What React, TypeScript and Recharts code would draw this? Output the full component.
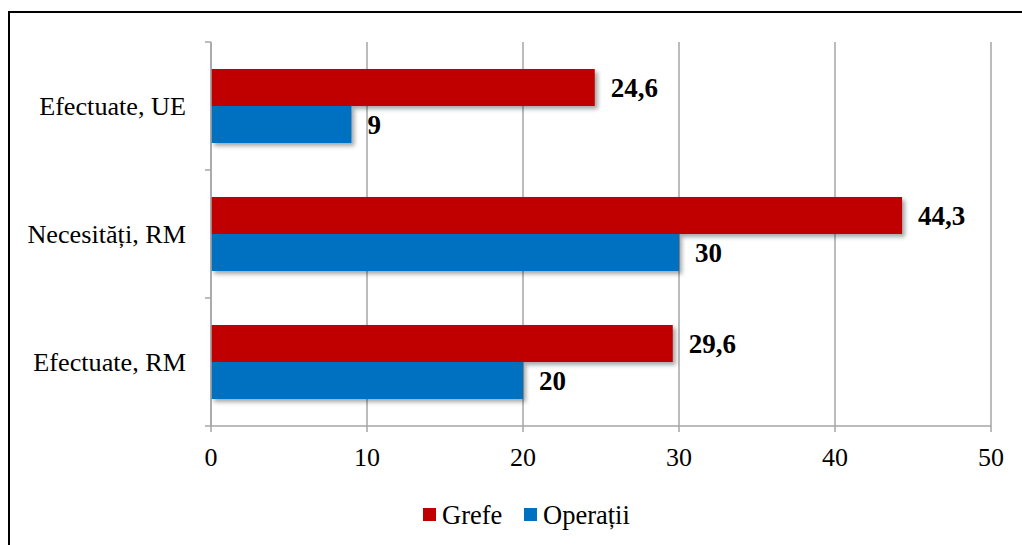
import React from 'react';
import {
  BarChart,
  Bar,
  XAxis,
  YAxis,
  CartesianGrid,
  Legend,
  LabelList,
} from 'recharts';

// categories, top to bottom
const categories = ['Efectuate, UE', 'Necesități, RM', 'Efectuate, RM'];
const grefe = [24.6, 44.3, 29.6];
const operatii = [9, 30, 20];
const xTicks = [0, 10, 20, 30, 40, 50];

const RED = '#C00000';
const BLUE = '#0070C0';
const GRID = '#A6A6A6';
const FONT = 'Liberation Serif, Times New Roman, serif';

const W = 1022;
const H = 545;
const MARGIN = { top: 42, right: 31, left: 0, bottom: 89 };
const X_AXIS_H = 30;
const PLOT_H = H - MARGIN.top - MARGIN.bottom - X_AXIS_H;

const data = categories.map((name, i) => ({
  name,
  Grefe: grefe[i],
  Operatii: operatii[i],
}));

const fmt = (v: any) => String(v).replace('.', ',');

// Excel style: tick marks sit on the band boundaries, not on the label
const CategoryTick = (props: any) => {
  const { x, y, payload, index } = props;
  const half = PLOT_H / categories.length / 2;
  const lineX = x + 19;
  return (
    <g>
      <line x1={lineX} x2={lineX + 6} y1={y - half} y2={y - half} stroke={GRID} strokeWidth={1.5} />
      {index === categories.length - 1 && (
        <line x1={lineX} x2={lineX + 6} y1={y + half} y2={y + half} stroke={GRID} strokeWidth={1.5} />
      )}
      <text
        x={x}
        y={y}
        textAnchor="end"
        dominantBaseline="central"
        fontFamily={FONT}
        fontSize={26.2}
        fill="#000"
      >
        {payload.value}
      </text>
    </g>
  );
};

const ShadowBar = (props: any) => {
  const { x, y, width, height, fill } = props;
  return (
    <rect
      x={x}
      y={y}
      width={width}
      height={height}
      fill={fill}
      style={{ filter: 'drop-shadow(3px 3px 2px rgba(0,0,0,0.35))' }}
    />
  );
};

const legendItems = [
  { label: 'Grefe', color: RED, x: 415 },
  { label: 'Operații', color: BLUE, x: 516 },
];

// drawn as svg so it uses the same serif text as the axes
const renderLegend = () => (
  <svg width={1036} height={40} style={{ display: 'block' }}>
    {legendItems.map((it) => (
      <g key={it.label}>
        <rect x={it.x} y={12} width={13} height={13} fill={it.color} />
        <text
          x={it.x + 19}
          y={19}
          dominantBaseline="central"
          fontFamily={FONT}
          fontSize={26.5}
          fill="#000"
        >
          {it.label}
        </text>
      </g>
    ))}
  </svg>
);

export default function App() {
  return (
    <div style={{ position: 'absolute', left: 0, top: 0, width: W, height: H, overflow: 'hidden', background: '#fff' }}>
      <div
        style={{
          position: 'absolute',
          left: 8,
          top: 11,
          width: 1040,
          height: 560,
          border: '2px solid #000',
          boxSizing: 'border-box',
        }}
      />
      <div style={{ position: 'absolute', left: 0, top: 0 }}>
        <BarChart
          width={W}
          height={H}
          data={data}
          layout="vertical"
          margin={MARGIN}
          barSize={37}
          barGap={0}
        >
          <CartesianGrid horizontal={false} stroke={GRID} strokeWidth={1.5} />
          <XAxis
            type="number"
            domain={[0, 50]}
            ticks={xTicks}
            height={X_AXIS_H}
            stroke={GRID}
            strokeWidth={1.5}
            tickSize={6}
            tickMargin={16}
            tick={{ fill: '#000', fontFamily: FONT, fontSize: 26 }}
            interval={0}
          />
          <YAxis
            type="category"
            dataKey="name"
            width={211}
            stroke={GRID}
            strokeWidth={1.5}
            tickLine={false}
            tickSize={6}
            tickMargin={19}
            tick={<CategoryTick />}
            interval={0}
          />
          <Legend
            layout="horizontal"
            verticalAlign="middle"
            align="center"
            content={renderLegend}
            wrapperStyle={{ top: 496, left: 8, width: 1036 }}
          />
          <Bar dataKey="Grefe" name="Grefe" fill={RED} shape={<ShadowBar />} isAnimationActive={false}>
            <LabelList
              dataKey="Grefe"
              position="right"
              offset={16}
              formatter={fmt}
              style={{ fontFamily: FONT, fontSize: 27, fontWeight: 'bold', fill: '#000' }}
            />
          </Bar>
          <Bar dataKey="Operatii" name="Operații" fill={BLUE} shape={<ShadowBar />} isAnimationActive={false}>
            <LabelList
              dataKey="Operatii"
              position="right"
              offset={16}
              formatter={fmt}
              style={{ fontFamily: FONT, fontSize: 27, fontWeight: 'bold', fill: '#000' }}
            />
          </Bar>
        </BarChart>
      </div>
    </div>
  );
}
